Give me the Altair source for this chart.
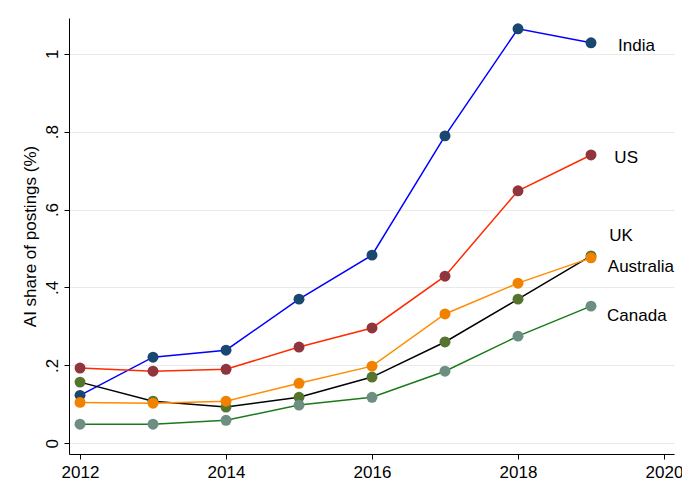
import altair as alt
import pandas as pd

years = [2012, 2013, 2014, 2015, 2016, 2017, 2018, 2019]
countries = ["India", "US", "UK", "Australia", "Canada"]
india = [0.123, 0.221, 0.239, 0.370, 0.483, 0.789, 1.064, 1.028]
us = [0.193, 0.185, 0.190, 0.247, 0.296, 0.429, 0.648, 0.740]
uk = [0.157, 0.108, 0.093, 0.118, 0.170, 0.260, 0.370, 0.481]
australia = [0.105, 0.103, 0.108, 0.154, 0.198, 0.332, 0.411, 0.476]
canada = [0.049, 0.049, 0.059, 0.098, 0.118, 0.185, 0.275, 0.352]
series = [india, us, uk, australia, canada]

line_colors = ["#0000ff", "#ff2a00", "#000000", "#ff8c00", "#1a7a1a"]
point_colors = ["#1a476f", "#90353b", "#55752f", "#f08200", "#6e8e84"]

label_x = [2019.37, 2019.32, 2019.25, 2019.23, 2019.22]
label_y = [1.020, 0.732, 0.532, 0.453, 0.327]

rows = []
for c, vals in zip(countries, series):
    for y, v in zip(years, vals):
        rows.append({"country": c, "year": y, "value": v})
df = pd.DataFrame(rows)
lab = pd.DataFrame({"country": countries, "x": label_x, "y": label_y})

xs = alt.Scale(domain=[2011.849, 2020.137], nice=False, zero=False)
ys = alt.Scale(domain=[-0.0275, 1.0916], nice=False, zero=False)

FONT = "Liberation Sans"
FS = 17

xaxis = alt.Axis(values=[2012, 2014, 2016, 2018, 2020], format="d", grid=False,
                 domainColor="#000", tickColor="#000", tickSize=5, labelFontSize=FS,
                 labelColor="#000", labelFont=FONT, labelPadding=5, title=None)
yaxis = alt.Axis(values=[0, 0.2, 0.4, 0.6, 0.8, 1.0],
                 labelExpr="datum.value == 0 ? '0' : datum.value == 1 ? '1' : '.' + format(datum.value*10, '.0f')",
                 grid=True, gridColor="#eaeaea", domainColor="#000", tickColor="#000", tickSize=5,
                 labelAngle=270, labelAlign="center", labelBaseline="bottom",
                 labelFontSize=FS, labelColor="#000", labelFont=FONT, labelPadding=3,
                 title="AI share of postings (%)", titleFontSize=FS, titleFontWeight="normal",
                 titleFont=FONT, titleColor="#000", titlePadding=4)

cscale = alt.Scale(domain=countries, range=line_colors)
fscale = alt.Scale(domain=countries, range=point_colors)

lines = alt.Chart(df).mark_line(strokeWidth=1.5).encode(
    x=alt.X("year:Q", scale=xs, axis=xaxis),
    y=alt.Y("value:Q", scale=ys, axis=yaxis),
    color=alt.Color("country:N", scale=cscale, legend=None),
    detail="country:N",
)
points = alt.Chart(df).mark_point(filled=True, size=120, opacity=1).encode(
    x=alt.X("year:Q", scale=xs),
    y=alt.Y("value:Q", scale=ys),
    fill=alt.Fill("country:N", scale=fscale, legend=None),
)
labels = alt.Chart(lab).mark_text(align="left", baseline="middle", fontSize=FS,
                                  font=FONT, color="#000").encode(
    x=alt.X("x:Q", scale=xs),
    y=alt.Y("y:Q", scale=ys),
    text="country:N",
)

chart = alt.layer(lines, points, labels).properties(
    width=605, height=436,
    autosize=alt.AutoSizeParams(type="none"),
    padding={"left": 61, "top": 10, "right": 8, "bottom": 40},
    background="white",
).configure_view(stroke=None)

chart.save("out.html", embed_options={"renderer": "svg", "actions": False})
